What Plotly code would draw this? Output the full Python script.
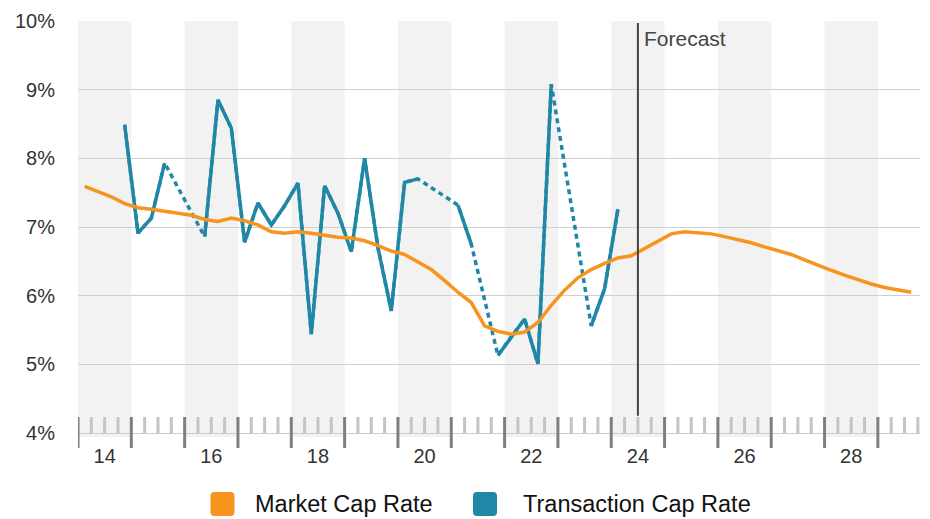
import plotly.graph_objects as go

# ---- data (quarterly, values in %) ----
market_start = "2014Q1"
market_rate = [
    7.59, 7.51, 7.44, 7.34,
    7.28, 7.26, 7.23, 7.19,
    7.17, 7.11, 7.08, 7.13,
    7.09, 7.03, 6.93, 6.91,
    6.93, 6.91, 6.88, 6.85,
    6.84, 6.80, 6.73, 6.65,
    6.60, 6.49, 6.38, 6.22,
    6.05, 5.90, 5.56, 5.48,
    5.44, 5.47, 5.61, 5.86,
    6.08, 6.26, 6.38, 6.47,
    6.55, 6.58, 6.69, 6.80,
    6.90, 6.93, 6.92, 6.90,
    6.86, 6.82, 6.77, 6.71,
    6.66, 6.60, 6.52, 6.44,
    6.37, 6.30, 6.23, 6.17,
    6.12, 6.08, 6.05,
]

transaction_start = "2014Q4"
transaction_rate = [
    8.49,
    6.91, 7.13, 7.93, None,
    None, 6.86, 8.85, 8.44,
    6.78, 7.35, 7.03, 7.31,
    7.64, 5.44, 7.60, 7.20,
    6.64, 8.00, 6.70, 5.78,
    7.65, 7.70, None, None,
    7.32, 6.75, None, 5.13,
    5.40, 5.66, 5.01, 9.08,
    None, None, 5.56, 6.10,
    7.26,
]

year_labels = ["14", "16", "18", "20", "22", "24", "26", "28"]
pct_ticks = [4, 5, 6, 7, 8, 9, 10]
forecast_start = "2024Q3"

MARKET_COLOR = "#F7941E"
TRANS_COLOR = "#2088A6"
FONT = "Liberation Sans, Arial, Helvetica, sans-serif"


def qpos(label):
    """Quarter label -> position of the start of that quarter on a year axis."""
    year, q = label.split("Q")
    return int(year) + (int(q) - 1) / 4


def series_x(start, n):
    x0 = qpos(start) + 0.125
    return [x0 + i * 0.25 for i in range(n)]


mx = series_x(market_start, len(market_rate))
tx = series_x(transaction_start, len(transaction_rate))

x_min, x_max = 2014, 2029.79

fig = go.Figure()

# gaps in transaction data are bridged with a dotted line underneath the solid one
fig.add_trace(go.Scatter(
    x=tx, y=transaction_rate, mode="lines", connectgaps=True,
    line=dict(color=TRANS_COLOR, width=3.5, dash="5px,4px"),
    hoverinfo="skip", showlegend=False,
))
fig.add_trace(go.Scatter(
    x=tx, y=transaction_rate, mode="lines", connectgaps=False,
    line=dict(color=TRANS_COLOR, width=3.5),
    name="Transaction Cap Rate", showlegend=False,
))
fig.add_trace(go.Scatter(
    x=mx, y=market_rate, mode="lines",
    line=dict(color=MARKET_COLOR, width=3.5),
    name="Market Cap Rate", showlegend=False,
))

shapes = []
# alternating year bands
for yr in range(2014, 2030, 2):
    shapes.append(dict(type="rect", xref="x", yref="paper",
                       x0=yr, x1=yr + 1, y0=-0.0096, y1=1,
                       fillcolor="#F2F2F2", line=dict(width=0), layer="below"))

# quarter (minor) and year (major) ticks
q = 0
while x_min + q * 0.25 <= x_max + 1e-9:
    xv = x_min + q * 0.25
    major = q % 4 == 0
    shapes.append(dict(type="line", xref="x", yref="paper",
                       ysizemode="pixel", yanchor=0,
                       x0=xv, x1=xv,
                       y0=-15 if major else 0, y1=16,
                       line=dict(color="#7F7F7F" if major else "#C4C4C4", width=3),
                       layer="above"))
    q += 1

# forecast divider
fx = qpos(forecast_start)
shapes.append(dict(type="line", xref="x", yref="y", x0=fx, x1=fx, y0=4.25, y1=9.97,
                   line=dict(color="#444444", width=2), layer="above"))

# legend swatches (rounded squares)
h, r = 12, 4
rounded = (f"M {-h + r},{-h} L {h - r},{-h} Q {h},{-h} {h},{-h + r} "
           f"L {h},{h - r} Q {h},{h} {h - r},{h} L {-h + r},{h} "
           f"Q {-h},{h} {-h},{h - r} L {-h},{-h + r} Q {-h},{-h} {-h + r},{-h} Z")
plot_w, plot_h = 842, 415


def px_x(p):
    return (p - 78) / plot_w


def px_y(p):
    return (433 - p) / plot_h


legend_items = [("Market Cap Rate", MARKET_COLOR, 222.5, 253),
                ("Transaction Cap Rate", TRANS_COLOR, 485, 521)]
annotations = []
for text, color, sx, tx0 in legend_items:
    shapes.append(dict(type="path", xref="paper", yref="paper",
                       xsizemode="pixel", ysizemode="pixel",
                       xanchor=px_x(sx), yanchor=px_y(504.5),
                       path=rounded, fillcolor=color, line=dict(width=0)))
    annotations.append(dict(text=text, xref="paper", yref="paper",
                            x=px_x(tx0), y=px_y(504.5), xanchor="left", yanchor="middle",
                            showarrow=False, font=dict(family=FONT, size=23.5, color="#111111")))

annotations.append(dict(text="Forecast", xref="x", yref="y", x=fx, y=9.74,
                        xanchor="left", yanchor="middle", xshift=4, showarrow=False,
                        font=dict(family=FONT, size=21, color="#444444")))

fig.update_layout(
    width=930, height=519,
    margin=dict(l=78, r=10, t=18, b=86),
    paper_bgcolor="white", plot_bgcolor="white",
    font=dict(family=FONT, size=20, color="#333333"),
    showlegend=False,
    shapes=shapes, annotations=annotations,
    xaxis=dict(range=[x_min, x_max], showgrid=False, zeroline=False,
               tickvals=[int("20" + s) + 0.5 for s in year_labels], ticktext=year_labels,
               ticks="", ticklabelstandoff=5,
               tickfont=dict(size=20, color="#333333"),
               showline=True, linecolor="#CCCCCC", linewidth=1, fixedrange=True),
    yaxis=dict(range=[4, 10], tickvals=pct_ticks, ticktext=[f"{v}%" for v in pct_ticks],
               showgrid=True, gridcolor="#CFCFCF", gridwidth=1, zeroline=False,
               ticks="outside", ticklen=18, tickcolor="rgba(0,0,0,0)",
               tickfont=dict(size=20, color="#333333"), fixedrange=True),
)

fig.write_html("out.html")
